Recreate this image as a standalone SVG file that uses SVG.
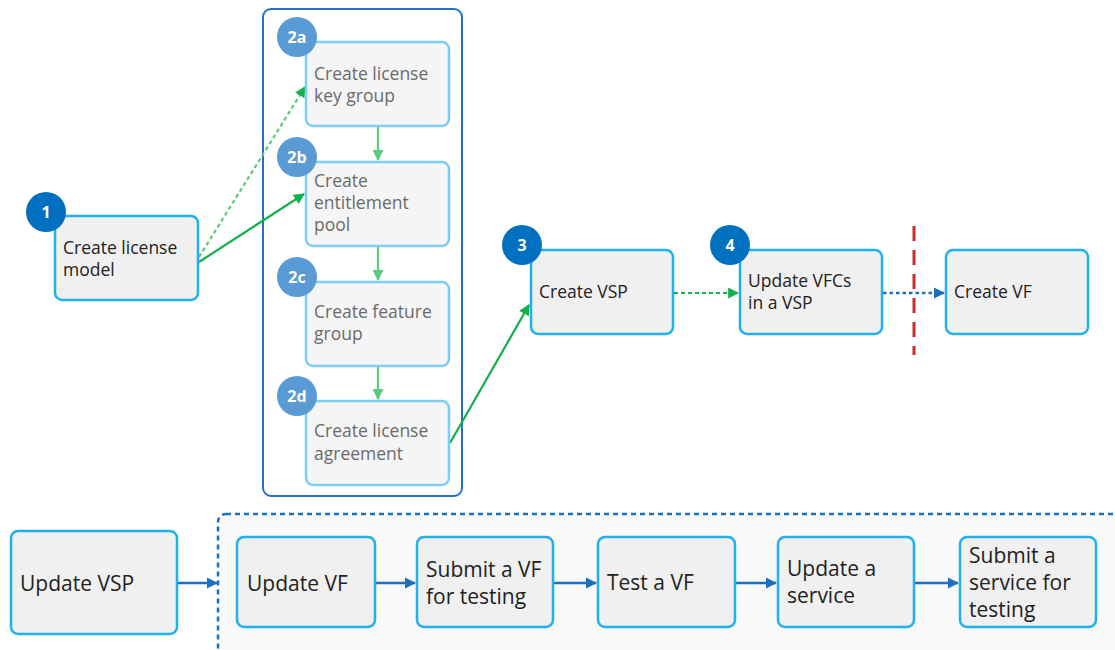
<svg xmlns="http://www.w3.org/2000/svg" width="1115" height="650" viewBox="0 0 1115 650">
  <defs>
    <style>
      .box { fill: #f0f0f0; stroke: #1fb1ec; stroke-width: 2.5; }
      .sub { fill: #f5f5f5; stroke: #7ccff2; stroke-width: 2.5; }
      .lbl { font-family: "Open Sans", "Noto Sans", sans-serif; font-size: 17.5px; fill: #222222; }
      .lbl-sub { font-family: "Open Sans", "Noto Sans", sans-serif; font-size: 17.5px; fill: #6a6a6a; }
      .lbl-big { font-family: "Open Sans", "Noto Sans", sans-serif; font-size: 21px; fill: #222222; }
      .step { fill: #0070c0; }
      .step-sub { fill: #5b9bd5; }
      .num { font-family: "Open Sans", "Noto Sans", sans-serif; font-size: 16px; font-weight: bold; fill: #ffffff; text-anchor: middle; }
      .g-solid { stroke: #13b04b; stroke-width: 2.2; fill: none; }
      .g-light { stroke: #5dc97c; stroke-width: 2.2; fill: none; }
      .b-solid { stroke: #1f6fbf; stroke-width: 2.5; fill: none; }
    </style>
    <marker id="ahG" viewBox="0 0 10 10" refX="9" refY="5" markerWidth="5" markerHeight="5" orient="auto" markerUnits="strokeWidth">
      <path d="M0,0 L10,5 L0,10 z" fill="#13b04b"/>
    </marker>
    <marker id="ahGL" viewBox="0 0 10 10" refX="9" refY="5" markerWidth="5" markerHeight="5" orient="auto" markerUnits="strokeWidth">
      <path d="M0,0 L10,5 L0,10 z" fill="#5dc97c"/>
    </marker>
    <marker id="ahB" viewBox="0 0 10 10" refX="9" refY="5" markerWidth="4.5" markerHeight="4.5" orient="auto" markerUnits="strokeWidth">
      <path d="M0,0 L10,5 L0,10 z" fill="#1f6fbf"/>
    </marker>
  </defs>

  <rect width="1115" height="650" fill="#ffffff"/>

  <!-- containers -->
  <g id="license-steps">
    <rect x="263" y="9" width="199" height="487" rx="8" fill="none" stroke="#2472c8" stroke-width="2"/>
  </g>
  <g id="vf-cycle">
    <rect x="218" y="514" width="920" height="160" rx="8" fill="#f9f9f9" stroke="#1f6fbf" stroke-width="2.5" stroke-dasharray="5 4"/>
  </g>

  <!-- connectors -->
  <g id="connectors">
    <line x1="199" y1="257" x2="305" y2="87" class="g-light" stroke-dasharray="4 3" stroke="#25b85a" marker-end="url(#ahG)"/>
    <line x1="199" y1="262" x2="304" y2="194" class="g-solid" marker-end="url(#ahG)"/>
    <line x1="378" y1="127" x2="378" y2="160" class="g-light" marker-end="url(#ahGL)"/>
    <line x1="378" y1="247" x2="378" y2="280" class="g-light" marker-end="url(#ahGL)"/>
    <line x1="378" y1="367" x2="378" y2="399" class="g-light" marker-end="url(#ahGL)"/>
    <line x1="450" y1="443" x2="529" y2="305" class="g-solid" marker-end="url(#ahG)"/>
    <line x1="674" y1="293" x2="738" y2="293" class="g-solid" stroke-dasharray="4 3" marker-end="url(#ahG)"/>
    <line x1="883" y1="293" x2="944" y2="293" class="b-solid" stroke-dasharray="3.5 3" marker-end="url(#ahB)"/>
    <line x1="914" y1="226" x2="914" y2="355" stroke="#d42a2f" stroke-width="3" stroke-dasharray="15 9"/>
    <line x1="178" y1="583" x2="217" y2="583" class="b-solid" marker-end="url(#ahB)"/>
    <line x1="376" y1="583" x2="415" y2="583" class="b-solid" marker-end="url(#ahB)"/>
    <line x1="554" y1="583" x2="596" y2="583" class="b-solid" marker-end="url(#ahB)"/>
    <line x1="736" y1="583" x2="776" y2="583" class="b-solid" marker-end="url(#ahB)"/>
    <line x1="915" y1="583" x2="958" y2="583" class="b-solid" marker-end="url(#ahB)"/>
  </g>

  <!-- top flow -->
  <g id="create-license-model">
    <rect x="55" y="216" width="143" height="84" rx="7" class="box"/>
    <text class="lbl" x="63" y="254">Create license</text>
    <text class="lbl" x="63" y="276">model</text>
    <circle cx="46" cy="212" r="20" class="step"/>
    <text class="num" x="46" y="218">1</text>
  </g>

  <g id="step-2a">
    <rect x="306" y="42" width="143" height="84" rx="7" class="sub"/>
    <text class="lbl-sub" x="314" y="80">Create license</text>
    <text class="lbl-sub" x="314" y="102">key group</text>
    <circle cx="297" cy="37" r="20" class="step-sub"/>
    <text class="num" x="297" y="43">2a</text>
  </g>

  <g id="step-2b">
    <rect x="306" y="162" width="143" height="84" rx="7" class="sub"/>
    <text class="lbl-sub" x="314" y="187">Create</text>
    <text class="lbl-sub" x="314" y="209">entitlement</text>
    <text class="lbl-sub" x="314" y="231">pool</text>
    <circle cx="297" cy="157" r="20" class="step-sub"/>
    <text class="num" x="297" y="163">2b</text>
  </g>

  <g id="step-2c">
    <rect x="306" y="282" width="143" height="84" rx="7" class="sub"/>
    <text class="lbl-sub" x="314" y="318">Create feature</text>
    <text class="lbl-sub" x="314" y="340">group</text>
    <circle cx="297" cy="277" r="20" class="step-sub"/>
    <text class="num" x="297" y="283">2c</text>
  </g>

  <g id="step-2d">
    <rect x="306" y="401" width="143" height="84" rx="7" class="sub"/>
    <text class="lbl-sub" x="314" y="437">Create license</text>
    <text class="lbl-sub" x="314" y="460">agreement</text>
    <circle cx="297" cy="396" r="20" class="step-sub"/>
    <text class="num" x="297" y="402">2d</text>
  </g>

  <g id="create-vsp">
    <rect x="531" y="250" width="142" height="84" rx="7" class="box"/>
    <text class="lbl" x="539" y="298">Create VSP</text>
    <circle cx="522" cy="245" r="20" class="step"/>
    <text class="num" x="522" y="251">3</text>
  </g>

  <g id="update-vfcs">
    <rect x="740" y="250" width="142" height="84" rx="7" class="box"/>
    <text class="lbl" x="748" y="287">Update VFCs</text>
    <text class="lbl" x="748" y="309">in a VSP</text>
    <circle cx="730" cy="245" r="20" class="step"/>
    <text class="num" x="730" y="251">4</text>
  </g>

  <g id="create-vf">
    <rect x="946" y="250" width="142" height="84" rx="7" class="box"/>
    <text class="lbl" x="954" y="298">Create VF</text>
  </g>

  <!-- bottom flow -->
  <g id="update-vsp">
    <rect x="11" y="531" width="166" height="103" rx="7" class="box"/>
    <text class="lbl-big" x="20" y="591">Update VSP</text>
  </g>

  <g id="update-vf">
    <rect x="237" y="537" width="138" height="90" rx="7" class="box"/>
    <text class="lbl-big" x="247" y="591">Update VF</text>
  </g>

  <g id="submit-vf">
    <rect x="417" y="537" width="136" height="90" rx="7" class="box"/>
    <text class="lbl-big" x="426" y="577">Submit a VF</text>
    <text class="lbl-big" x="426" y="604">for testing</text>
  </g>

  <g id="test-vf">
    <rect x="598" y="537" width="137" height="90" rx="7" class="box"/>
    <text class="lbl-big" x="607" y="590">Test a VF</text>
  </g>

  <g id="update-service">
    <rect x="778" y="537" width="136" height="90" rx="7" class="box"/>
    <text class="lbl-big" x="787" y="576">Update a</text>
    <text class="lbl-big" x="787" y="603">service</text>
  </g>

  <g id="submit-service">
    <rect x="960" y="537" width="136" height="90" rx="7" class="box"/>
    <text class="lbl-big" x="969" y="563">Submit a</text>
    <text class="lbl-big" x="969" y="590">service for</text>
    <text class="lbl-big" x="969" y="617">testing</text>
  </g>
</svg>
